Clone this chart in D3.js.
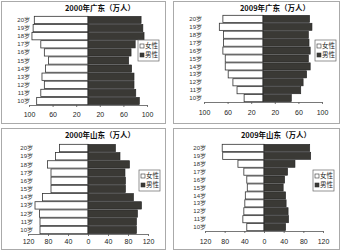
<!DOCTYPE html>
<html>
<head>
<meta charset="utf-8">
<script src="https://cdn.jsdelivr.net/npm/d3@7"></script>
<style>
  body { margin: 0; background: #fff; }
  svg { display: block; font-family: "Noto Sans CJK SC", "DejaVu Sans", sans-serif; }
  .axis path, .axis line { stroke: #555; stroke-width: 0.8; }
  .axis text { font-size: 7px; fill: #222; font-family: "Liberation Sans", sans-serif; }
  .small { font-family: "Liberation Sans", "Noto Sans CJK SC", sans-serif; }
</style>
</head>
<body>
<div id="chart"></div>
<script>
// umur 10岁 .. 20岁
const AGES = ["10岁","11岁","12岁","13岁","14岁","15岁","16岁","17岁","18岁","19岁","20岁"];

// nilai (万人), urutan 10岁 -> 20岁
const GD2000_F = [87, 80, 74, 78, 72, 67, 74, 80, 95, 93, 91];
const GD2000_M = [87, 81, 78, 78, 74, 69, 73, 80, 95, 93, 90];
const GD2009_F = [32, 44, 51, 59, 64, 64, 68, 67, 67, 74, 68];
const GD2009_M = [48, 64, 68, 74, 80, 77, 80, 78, 77, 83, 79];
const SD2000_F = [96, 96, 97, 106, 91, 74, 74, 74, 81, 65, 57];
const SD2000_M = [97, 97, 99, 107, 91, 75, 75, 74, 83, 64, 55];
const SD2009_F = [35, 43, 41, 39, 38, 34, 35, 41, 53, 84, 85];
const SD2009_M = [44, 50, 49, 45, 44, 39, 42, 48, 63, 95, 93];

const TICKS_GD = [-100, -60, -20, 20, 60, 100];
const TICKS_SD = [-120, -80, -40, 0, 40, 80, 120];

const LEGEND = ["女性", "男性"];

// panel: posisi + ukuran kira-kira dari gambar
const panels = [
  { title: "2000年广东（万人）", f: GD2000_F, m: GD2000_M, max: 100, ticks: TICKS_GD,
    x: 1, y: 1, w: 165, h: 123, left: 28, right: 146, top: 15, bottom: 104, labY: 117, ageX: 29,
    leg: [137, 39] },
  { title: "2009年广东（万人）", f: GD2009_F, m: GD2009_M, max: 100, ticks: TICKS_GD,
    x: 173, y: 1, w: 167, h: 123, left: 31, right: 149, top: 14, bottom: 101, labY: 115, ageX: 29,
    leg: [142, 39] },
  { title: "2000年山东（万人）", f: SD2000_F, m: SD2000_M, max: 120, ticks: TICKS_SD,
    x: 1, y: 128, w: 165, h: 122, left: 27, right: 147, top: 16, bottom: 106, labY: 117, ageX: 32,
    leg: [138, 42] },
  { title: "2009年山东（万人）", f: SD2009_F, m: SD2009_M, max: 120, ticks: TICKS_SD,
    x: 173, y: 128, w: 167, h: 122, left: 32, right: 150, top: 16, bottom: 103, labY: 117, ageX: 33,
    leg: [140, 42] }
];

const MALE_COLOR = "#3a3935";

const svg = d3.select("#chart").append("svg")
  .attr("width", 342)
  .attr("height", 252);

panels.forEach(p => {
  const g = svg.append("g").attr("transform", `translate(${p.x},${p.y})`);

  // border panel
  g.append("rect")
    .attr("x", 0.5).attr("y", 0.5)
    .attr("width", p.w - 1).attr("height", p.h - 1)
    .attr("fill", "#fff")
    .attr("stroke", "#aaa")
    .attr("stroke-width", 1);

  const x = d3.scaleLinear().domain([-p.max, p.max]).range([p.left, p.right]);
  const y = d3.scaleBand()
    .domain(AGES.slice().reverse())
    .range([p.top, p.bottom])
    .paddingInner(0.1)
    .paddingOuter(0.04);

  // batang perempuan (kiri)
  g.selectAll(".bar-f")
    .data(AGES.map((a, i) => ({ age: a, v: p.f[i] })))
    .enter().append("rect")
    .attr("x", d => x(-d.v))
    .attr("y", d => y(d.age))
    .attr("width", d => x(0) - x(-d.v))
    .attr("height", y.bandwidth())
    .attr("fill", "#fff")
    .attr("stroke", "#333")
    .attr("stroke-width", 0.8);

  // batang laki-laki (kanan)
  g.selectAll(".bar-m")
    .data(AGES.map((a, i) => ({ age: a, v: p.m[i] })))
    .enter().append("rect")
    .attr("x", x(0))
    .attr("y", d => y(d.age))
    .attr("width", d => x(d.v) - x(0))
    .attr("height", y.bandwidth())
    .attr("fill", MALE_COLOR)
    .attr("stroke", "#222")
    .attr("stroke-width", 0.6);

  // label umur
  g.selectAll(".age")
    .data(AGES)
    .enter().append("text")
    .attr("class", "small")
    .attr("x", p.ageX)
    .attr("y", d => y(d) + y.bandwidth() / 2)
    .attr("dy", "0.35em")
    .attr("text-anchor", "end")
    .attr("font-size", "6px")
    .attr("fill", "#333")
    .text(d => d);

  // sumbu x
  g.append("g")
    .attr("class", "axis")
    .attr("transform", `translate(0,${p.bottom})`)
    .call(d3.axisBottom(x).tickValues(p.ticks).tickSize(2).tickSizeOuter(0).tickFormat(d => Math.abs(d)))
    .selectAll("text")
      .attr("y", p.labY - p.bottom - 6);

  // judul
  g.append("text")
    .attr("x", (p.left + p.right) / 2 + 12)
    .attr("y", 10)
    .attr("text-anchor", "middle")
    .attr("font-size", "7.5px")
    .attr("font-weight", "bold")
    .attr("fill", "#111")
    .text(p.title);

  // legend
  const lg = g.append("g").attr("transform", `translate(${p.leg[0]},${p.leg[1]})`);
  lg.append("rect")
    .attr("width", 21).attr("height", 21)
    .attr("fill", "#fff")
    .attr("stroke", "#666")
    .attr("stroke-width", 0.7);
  LEGEND.forEach((name, i) => {
    lg.append("rect")
      .attr("x", 2).attr("y", 4 + i * 9)
      .attr("width", 4).attr("height", 4)
      .attr("fill", i === 0 ? "#fff" : MALE_COLOR)
      .attr("stroke", "#333")
      .attr("stroke-width", 0.6);
    lg.append("text")
      .attr("class", "small")
      .attr("x", 7).attr("y", 6 + i * 9)
      .attr("dy", "0.35em")
      .attr("font-size", "6.5px")
      .attr("fill", "#222")
      .text(name);
  });
});
</script>
</body>
</html>
